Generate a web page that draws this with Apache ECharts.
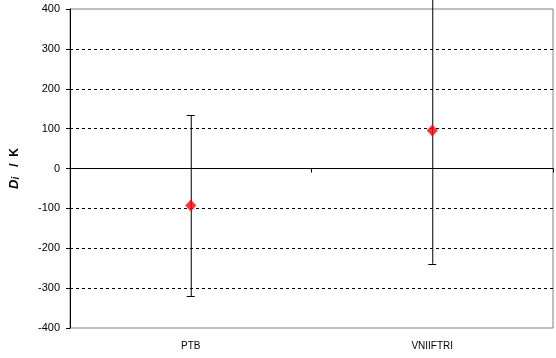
<!DOCTYPE html>
<html><head><meta charset="utf-8">
<script src="https://cdn.jsdelivr.net/npm/echarts@6/dist/echarts.min.js"></script>
<style>html,body{margin:0;padding:0;background:#fff}#c{width:556px;height:358px}</style>
</head><body><div id="c"></div>
<script>
var categories = ['PTB', 'VNIIFTRI'];
var values = [-93, 95];
var lower = [-320, -239];
var upper = [134, 429];
var yTicks = [-400, -300, -200, -100, 0, 100, 200, 300, 400];

var chart = echarts.init(document.getElementById('c'));
var font = 'Liberation Sans, Arial, sans-serif';
chart.setOption({
  animation: false,
  backgroundColor: '#fff',
  grid: { left: 68, right: 3, top: 9, bottom: 30, show: true, borderColor: '#808080', borderWidth: 1, backgroundColor: 'transparent' },
  xAxis: [
    { type: 'category', data: categories, boundaryGap: true,
      axisLine: { onZero: true, lineStyle: { color: '#000', width: 1 } },
      axisTick: { show: true, inside: false, length: 4, lineStyle: { color: '#000' } },
      axisLabel: { show: false }, splitLine: { show: false } },
    { type: 'category', data: categories, position: 'bottom', boundaryGap: true,
      axisLine: { show: false }, axisTick: { show: false },
      axisLabel: { color: '#000', fontSize: 10, fontFamily: font, margin: 13 }, splitLine: { show: false } }
  ],
  yAxis: {
    type: 'value', min: yTicks[0], max: yTicks[yTicks.length - 1], interval: 100,
    axisLine: { show: true, onZero: false, lineStyle: { color: '#000' } },
    axisTick: { show: true, length: 4, lineStyle: { color: '#000' } },
    axisLabel: { color: '#000', fontSize: 11, fontFamily: font, margin: 10 },
    splitLine: { show: true, showMinLine: false, showMaxLine: false, lineStyle: { color: '#000', type: [3, 3], width: 1 } },
    name: '{d|D}{i|i}{b|   /  K}', nameLocation: 'middle', nameGap: 49, nameRotate: 90,
    nameTextStyle: { rich: {
      d: { fontFamily: font, fontStyle: 'italic', fontWeight: 'bold', fontSize: 13, color: '#000' },
      i: { fontFamily: font, fontStyle: 'italic', fontWeight: 'bold', fontSize: 10, color: '#000', verticalAlign: 'bottom' },
      b: { fontFamily: font, fontWeight: 'bold', fontSize: 12, color: '#000' }
    } }
  },
  series: [
    { type: 'custom', xAxisIndex: 0, clip: false, z: 3,
      data: categories.map(function (c, k) { return [k, lower[k], upper[k]]; }),
      renderItem: function (params, api) {
        var x = api.value(0);
        var lo = api.coord([x, api.value(1)]);
        var hi = api.coord([x, api.value(2)]);
        var w = 4;
        var style = { stroke: '#000', lineWidth: 1 };
        return { type: 'group', children: [
          { type: 'line', shape: { x1: lo[0] + 0.5, y1: lo[1], x2: hi[0] + 0.5, y2: hi[1] }, style: style },
          { type: 'line', shape: { x1: lo[0] - w, y1: Math.round(lo[1]) + 0.5, x2: lo[0] + w, y2: Math.round(lo[1]) + 0.5 }, style: style },
          { type: 'line', shape: { x1: hi[0] - w, y1: Math.round(hi[1]) + 0.5, x2: hi[0] + w, y2: Math.round(hi[1]) + 0.5 }, style: style }
        ] };
      } },
    { type: 'scatter', xAxisIndex: 0, data: values, symbol: 'diamond', symbolSize: [11, 12], z: 4,
      itemStyle: { color: '#ff0000' } }
  ]
});
</script></body></html>
